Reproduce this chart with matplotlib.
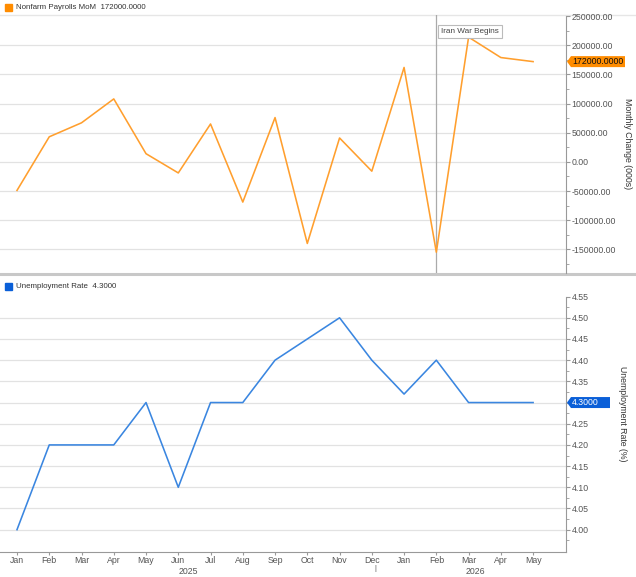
import numpy as np
import matplotlib
matplotlib.use("Agg")
import matplotlib.pyplot as plt
from matplotlib.patches import Polygon
from matplotlib.transforms import IdentityTransform

months = ['Jan', 'Feb', 'Mar', 'Apr', 'May', 'Jun', 'Jul', 'Aug', 'Sep', 'Oct', 'Nov', 'Dec',
          'Jan', 'Feb', 'Mar', 'Apr', 'May']
payrolls = [-49000, 43000, 67000, 108000, 14000, -19000, 65000, -69000, 76000, -140000,
            41000, -16000, 162000, -155000, 214000, 179000, 172000]
unemp = [4.00, 4.20, 4.20, 4.20, 4.30, 4.10, 4.30, 4.30, 4.40, 4.45, 4.50, 4.40,
         4.32, 4.40, 4.30, 4.30, 4.30]
pay_ticks = [-150000, -100000, -50000, 0, 50000, 100000, 150000, 200000, 250000]
ur_ticks = [4.00, 4.05, 4.10, 4.15, 4.20, 4.25, 4.30, 4.35, 4.40, 4.45, 4.50, 4.55]
years = ['2025', '2026']
event_idx = 13
event_label = 'Iran War Begins'

plt.rcParams['font.family'] = ['Liberation Sans', 'DejaVu Sans']
FS = 6.3
orange = '#ff9f2e'
orange_tag = '#ff8c00'
blue = '#3a86e0'
blue_tag = '#0a5fd8'
tick_col = '#555555'

W, H = 636, 577
fig = plt.figure(figsize=(W / 100, H / 100), dpi=100)

x = np.arange(len(months))
xl = (-0.527, 17.02)

def style(ax, ticks, fmt, ylim, minor, hide=None):
    ax.patch.set_visible(False)
    ax.set_xlim(*xl)
    ax.set_ylim(*ylim)
    for s in ['left', 'top']:
        ax.spines[s].set_visible(False)
    ax.spines['right'].set_color('#999999')
    ax.spines['right'].set_bounds(ylim[0], ticks[-1])
    ax.yaxis.tick_right()
    ax.set_yticks(ticks)
    # the last-value tag sits on top of the matching tick label
    ax.set_yticklabels(['' if (hide is not None and abs(t - hide) < 1e-9) else fmt.format(t)
                        for t in ticks])
    ax.set_yticks(minor, minor=True)
    ax.tick_params(axis='y', which='both', direction='out', color='#999999',
                   labelsize=FS, labelcolor=tick_col, pad=1)
    ax.tick_params(axis='y', which='major', length=3)
    ax.tick_params(axis='y', which='minor', length=2)
    for t in ticks[:-1]:
        ax.axhline(t, color='#e2e2e2', lw=0.9, zorder=0)

# top panel
ax1 = fig.add_axes([0, (H - 273) / H, 566 / W, (273 - 15) / H])
style(ax1, pay_ticks, '{:.2f}', (-190700, 252000), np.arange(-175000, 250000, 50000))
ax1.spines['bottom'].set_visible(False)
ax1.set_xticks([])
ax1.plot(x, payrolls, color=orange, lw=1.15, zorder=3)
ax1.axvline(event_idx, color='#aaaaaa', lw=0.9, zorder=2)
ax1.annotate(event_label, xy=(event_idx, 1), xycoords=('data', 'axes fraction'),
             xytext=(5, -16.5), textcoords='offset pixels', ha='left', va='center',
             fontsize=5.9, color='#444444',
             bbox=dict(boxstyle='square,pad=0.4', fc='white', ec='#bbbbbb', lw=0.8))
ax1.set_ylabel('Monthly Change (000s)', rotation=270, fontsize=FS, color='#333333')
ax1.yaxis.set_label_position('right')
ax1.yaxis.set_label_coords(1.117, 0.5)

# bottom panel
ax2 = fig.add_axes([0, (H - 551.7) / H, 566 / W, (551.7 - 275) / H])
style(ax2, ur_ticks, '{:.2f}', (3.948, 4.601), np.arange(3.975, 4.56, 0.05), hide=unemp[-1])
ax2.spines['bottom'].set_color('#999999')
ax2.plot(x, unemp, color=blue, lw=1.15, zorder=3)
ax2.set_xticks(x)
ax2.set_xticklabels(months)
ax2.tick_params(axis='x', direction='out', length=2, color='#999999',
                labelsize=FS, labelcolor=tick_col, pad=1)
ax2.set_ylabel('Unemployment Rate (%)', rotation=270, fontsize=FS, color='#333333')
ax2.yaxis.set_label_position('right')
ax2.yaxis.set_label_coords(1.107, 0.5)
xt = ax2.get_xaxis_transform()
ax2.text(5.3, -0.07, years[0], transform=xt, ha='center', va='center', fontsize=FS, color=tick_col)
ax2.text(14.2, -0.07, years[1], transform=xt, ha='center', va='center', fontsize=FS, color=tick_col)
ax2.text(11.12, -0.062, '|', transform=xt, ha='center', va='center', fontsize=5.5, color=tick_col)

# panel border lines
fig.add_artist(plt.Line2D([0, 1], [1 - 15 / H, 1 - 15 / H], color='#e6e6e6', lw=1.0, zorder=-1))
fig.add_artist(plt.Line2D([0, 1], [1 - 274 / H, 1 - 274 / H], color='#c8c8c8', lw=2.2, zorder=-1))

# legends
def legend(ypx, color, text):
    yf = 1 - ypx / H
    fig.add_artist(plt.Rectangle((5 / W, yf - 3.5 / H), 7 / W, 7 / H, color=color,
                                 transform=fig.transFigure))
    fig.text(16 / W, yf, text, ha='left', va='center', fontsize=5.7, color='#333333')

legend(7.5, orange_tag, 'Nonfarm Payrolls MoM  {:.4f}'.format(payrolls[-1]))
legend(286, blue_tag, 'Unemployment Rate  {:.4f}'.format(unemp[-1]))

# last value tags
fig.canvas.draw()
def tag(ax, val, color, txtcolor, width):
    yd = ax.transData.transform((0, val))[1]
    xd = ax.transAxes.transform((1, 0))[0]
    h = 5.5
    pts = [(xd + 1, yd), (xd + 5, yd + h), (xd + 5 + width, yd + h),
           (xd + 5 + width, yd - h), (xd + 5, yd - h)]
    fig.add_artist(Polygon(pts, closed=True, fc=color, ec='none', transform=IdentityTransform()))
    fig.text((xd + 6) / W, yd / H, '{:.4f}'.format(val), ha='left', va='center',
             fontsize=FS, color=txtcolor)

tag(ax1, payrolls[-1], orange_tag, '#111111', 54)
tag(ax2, unemp[-1], blue_tag, 'white', 39)

fig.savefig('out.png', dpi=100)
